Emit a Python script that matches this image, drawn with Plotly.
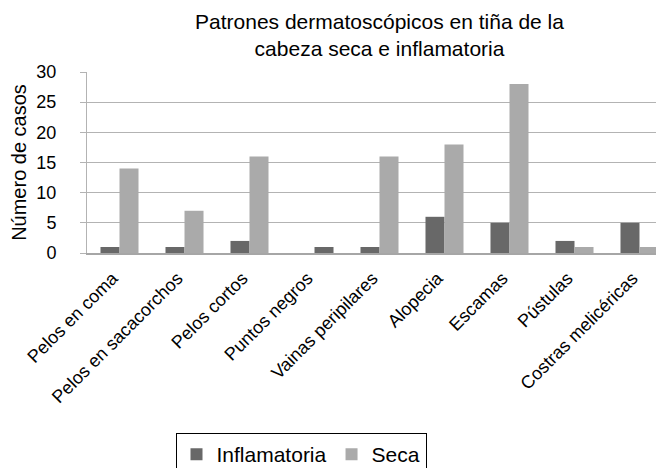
import plotly.graph_objects as go

categories = ["Pelos en coma", "Pelos en sacacorchos", "Pelos cortos", "Puntos negros",
              "Vainas peripilares", "Alopecia", "Escamas", "Pústulas", "Costras melicéricas"]
inflamatoria = [1, 1, 2, 0, 1, 6, 5, 2, 5]
seca = [14, 7, 16, 1, 16, 18, 28, 1, 1]

DARK = "#686868"
LIGHT = "#aaaaaa"
# in the reference, the single bar at "Puntos negros" is drawn in the dark tone
seca_colors = [DARK if c == "Puntos negros" else LIGHT for c in categories]

FONT = "Liberation Sans, Arial, Helvetica, sans-serif"

fig = go.Figure()
fig.add_trace(go.Bar(name="Inflamatoria", x=categories, y=inflamatoria,
                     marker=dict(color=DARK, line=dict(width=0))))
fig.add_trace(go.Bar(name="Seca", x=categories, y=seca,
                     marker=dict(color=seca_colors, line=dict(width=0))))

fig.update_layout(
    width=664, height=468,
    margin=dict(l=79, r=0, t=64, b=221),
    paper_bgcolor="white", plot_bgcolor="white",
    font=dict(family=FONT, color="black"),
    barmode="group", bargap=0.415, bargroupgap=0,
    title=dict(text="Patrones dermatoscópicos en tiña de la<br>cabeza seca e inflamatoria",
               x=0.5, xref="paper", xanchor="center",
               y=1 - 21 / 468, yref="container", yanchor="top",
               font=dict(size=21, family=FONT, color="black")),
    legend=dict(orientation="h", x=(293 - 79) / 585, xanchor="center",
                y=(247 - 429) / 183, yanchor="top",
                bordercolor="black", borderwidth=1,
                font=dict(size=21, family=FONT, color="black"),
                itemwidth=30, traceorder="normal"),
    showlegend=True,
)
fig.update_xaxes(showline=True, linecolor="#a6a6a6", linewidth=1.5,
                 ticks="", tickangle=-45, ticklabelshift=-7, ticklabelstandoff=6,
                 tickfont=dict(size=18, family=FONT, color="black"),
                 showgrid=False)
fig.update_yaxes(range=[0, 30], dtick=5, showline=True, linecolor="#b3b3b3", linewidth=1,
                 ticks="outside", ticklen=6, tickcolor="#b3b3b3",
                 ticklabelstandoff=20,
                 tickfont=dict(size=18, family=FONT, color="black"),
                 showgrid=True, gridcolor="#b3b3b3", gridwidth=1.3, zeroline=False,
                 title=dict(text="Número de casos", standoff=6,
                            font=dict(size=20, family=FONT, color="black")))

fig.write_html("out.html")
